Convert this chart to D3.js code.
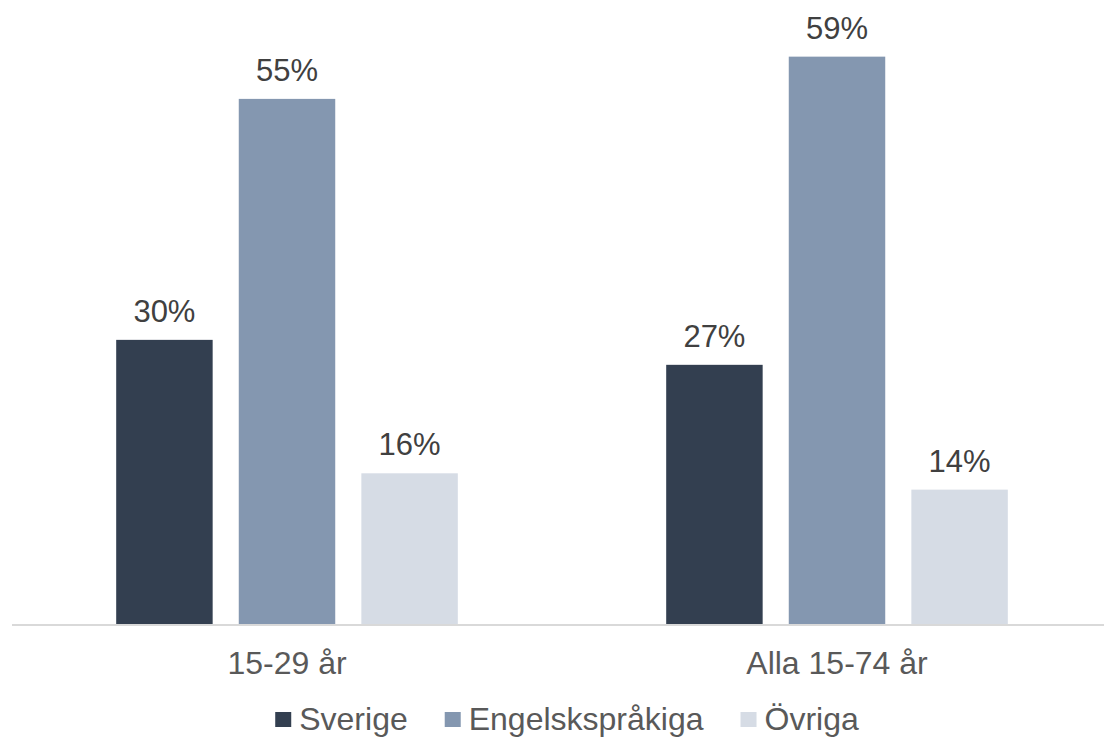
<!DOCTYPE html>
<html>
<head>
<meta charset="utf-8">
<script src="https://cdn.jsdelivr.net/npm/d3@7"></script>
<style>
  body { margin: 0; background: #fff; }
  svg { display: block; font-family: "Liberation Sans", Arial, sans-serif; }
</style>
</head>
<body>
<svg id="chart" width="1107" height="738"></svg>
<script>
  var groups = ["15-29 år", "Alla 15-74 år"];
  var seriesNames = ["Sverige", "Engelskspråkiga", "Övriga"];
  var seriesColors = ["#333f50", "#8497b0", "#d6dce5"];
  // values per group, in series order (percent)
  var sverige = [29.7, 27.1];
  var engelsk = [54.8, 59.2];
  var ovriga = [15.8, 14.1];

  var svg = d3.select("#chart");
  var margin = { top: 0, left: 12, right: -5, bottom: 113 };
  var width = +svg.attr("width");
  var height = +svg.attr("height");
  var baseY = height - margin.bottom;

  var rows = groups.map(function (g, i) {
    return { group: g, values: [sverige[i], engelsk[i], ovriga[i]] };
  });

  var x0 = d3.scaleBand()
    .domain(groups)
    .range([margin.left, width - margin.right])
    .paddingInner(0)
    .paddingOuter(0);

  var x1 = d3.scaleBand()
    .domain(seriesNames)
    .range([0, x0.bandwidth()])
    .paddingInner(0.213)
    .paddingOuter(0.85);

  var y = d3.scaleLinear()
    .domain([0, 65.1])
    .range([baseY, 0]);

  var color = d3.scaleOrdinal().domain(seriesNames).range(seriesColors);
  var fmt = function (v) { return d3.format(".0f")(v) + "%"; };

  var g = svg.append("g");

  var grp = g.selectAll("g.grp")
    .data(rows)
    .enter().append("g")
    .attr("class", "grp")
    .attr("transform", function (d) { return "translate(" + x0(d.group) + ",0)"; });

  var cells = grp.selectAll("g.cell")
    .data(function (d) {
      return d.values.map(function (v, i) { return { key: seriesNames[i], value: v }; });
    })
    .enter().append("g").attr("class", "cell");

  cells.append("rect")
    .attr("x", function (d) { return x1(d.key); })
    .attr("width", x1.bandwidth())
    .attr("y", function (d) { return y(d.value); })
    .attr("height", function (d) { return baseY - y(d.value); })
    .attr("fill", function (d) { return color(d.key); });

  cells.append("text")
    .attr("x", function (d) { return x1(d.key) + x1.bandwidth() / 2; })
    .attr("y", function (d) { return y(d.value) - 18; })
    .attr("text-anchor", "middle")
    .attr("fill", "#404040")
    .style("font-size", "31px")
    .text(function (d) { return fmt(d.value); });

  // x axis
  var xAxis = d3.axisBottom(x0).tickSize(0).tickPadding(26);
  var axG = svg.append("g")
    .attr("transform", "translate(0," + baseY + ")")
    .call(xAxis);
  axG.select(".domain").attr("stroke", "#d9d9d9").attr("stroke-width", 2)
    .attr("d", "M" + margin.left + ",0H" + (width - 3));
  axG.selectAll(".tick text")
    .attr("fill", "#595959")
    .style("font-size", "32px")
    .style("font-family", "'Liberation Sans', Arial, sans-serif");

  // legend
  var legend = svg.append("g").attr("class", "legend");
  var items = legend.selectAll("g")
    .data(seriesNames)
    .enter().append("g");
  items.append("rect")
    .attr("width", 16).attr("height", 15)
    .attr("y", 712)
    .attr("fill", function (d) { return color(d); });
  items.append("text")
    .attr("x", 24)
    .attr("y", 730)
    .attr("fill", "#595959")
    .style("font-size", "32px")
    .text(function (d) { return d; });

  var xPos = 0;
  var gap = 37;
  items.each(function () {
    var w = 24 + this.querySelector("text").getComputedTextLength();
    d3.select(this).attr("transform", "translate(" + xPos + ",0)");
    xPos += w + gap;
  });
  var total = xPos - gap;
  legend.attr("transform", "translate(" + (567 - total / 2) + ",0)");
</script>
</body>
</html>
